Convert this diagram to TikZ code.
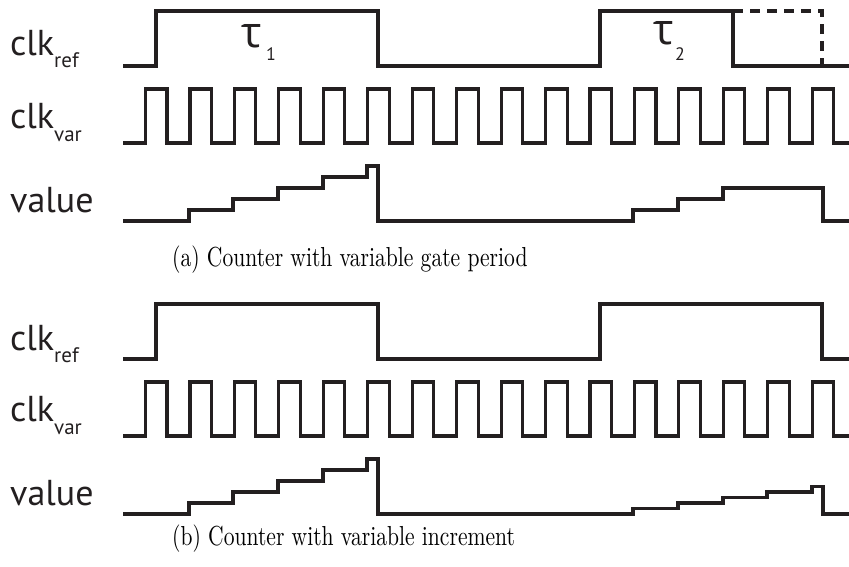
\documentclass[tikz,border=0pt]{standalone}
\usepackage{fontspec}
\usepackage{graphicx}
\newfontfamily\lblfont{PT Sans}
\newfontfamily\taufont{Open Sans}
\definecolor{ink}{HTML}{231F20}
\begin{document}
\begin{tikzpicture}[x=1pt,y=-1pt,
  wave/.style={draw=ink, line width=3.1pt, line join=miter},
  dashwave/.style={wave, dash pattern=on 10pt off 7pt},
  lbl/.style={anchor=base west, inner sep=0pt, text=ink, font=\lblfont\fontsize{36}{36}\selectfont},
  taulbl/.style={anchor=base west, inner sep=0pt, text=ink, font=\taufont\fontsize{43}{43}\selectfont},
  sublbl/.style={anchor=base west, inner sep=0pt, text=ink, font=\lblfont\fontsize{18}{18}\selectfont},
  captext/.style={anchor=base west, inner sep=0pt, text=black}]
\useasboundingbox (0,0) rectangle (849,566);

% ---------- panel (a) ----------
\node[lbl] (refA) at (10,55) {clk\raisebox{-12pt}{\fontsize{21}{21}\selectfont ref}};
\node[lbl] (varA) at (10,128) {clk\raisebox{-13pt}{\fontsize{21}{21}\selectfont var}};
\node[lbl] (valA) at (10,212) {value};

\draw[wave] (123,66) -- (156,66) -- (156,11) -- (378,11) -- (378,66) -- (600,66) -- (600,11) -- (733,11) -- (733,66) -- (849,66);
\draw[dashwave] (733,11) -- (822,11) -- (822,66);

\draw[wave] (123,143) foreach \k in {0,...,15} { -- ({145.5+44.45*\k},143) -- ({145.5+44.45*\k},89) -- ({167+44.45*\k},89) -- ({167+44.45*\k},143) } -- (849,143);

\draw[wave] (123,221) -- (189,221) -- (189,210) -- (233,210) -- (233,199) -- (278,199) -- (278,188) -- (323,188) -- (323,177) -- (367,177) -- (367,166) -- (378,166) -- (378,221) -- (633,221) -- (633,210) -- (678,210) -- (678,199) -- (723,199) -- (723,188) -- (823,188) -- (823,221) -- (849,221);

\node[taulbl] (tau1) at (241,47) {τ};
\node[sublbl] (one) at (266,60) {1};
\node[taulbl] (tau2) at (653,44) {τ};
\node[sublbl] (two) at (675,60) {2};

\node[captext] (capA) at (172,266) {\scalebox{2.16}[2.75]{(a) Counter with variable gate period}};

% ---------- panel (b) ----------
\node[lbl] (refB) at (10,350) {clk\raisebox{-12pt}{\fontsize{21}{21}\selectfont ref}};
\node[lbl] (varB) at (10,421) {clk\raisebox{-13pt}{\fontsize{21}{21}\selectfont var}};
\node[lbl] (valB) at (10,505) {value};

\draw[wave] (123,359) -- (156,359) -- (156,304) -- (378,304) -- (378,359) -- (600,359) -- (600,304) -- (822,304) -- (822,359) -- (849,359);

\draw[wave] (123,436) foreach \k in {0,...,15} { -- ({145.5+44.45*\k},436) -- ({145.5+44.45*\k},382) -- ({167+44.45*\k},382) -- ({167+44.45*\k},436) } -- (849,436);

\draw[wave] (123,514) -- (189,514) -- (189,503) -- (233,503) -- (233,492) -- (278,492) -- (278,481) -- (323,481) -- (323,470) -- (367,470) -- (367,459) -- (378,459) -- (378,514) -- (633,514) -- (633,508.5) -- (678,508.5) -- (678,503) -- (723,503) -- (723,497.5) -- (767,497.5) -- (767,492) -- (812,492) -- (812,486.5) -- (823,486.5) -- (823,514) -- (849,514);

\node[captext] (capB) at (172,545) {\scalebox{2.16}[2.75]{(b) Counter with variable increment}};
\end{tikzpicture}
\end{document}
